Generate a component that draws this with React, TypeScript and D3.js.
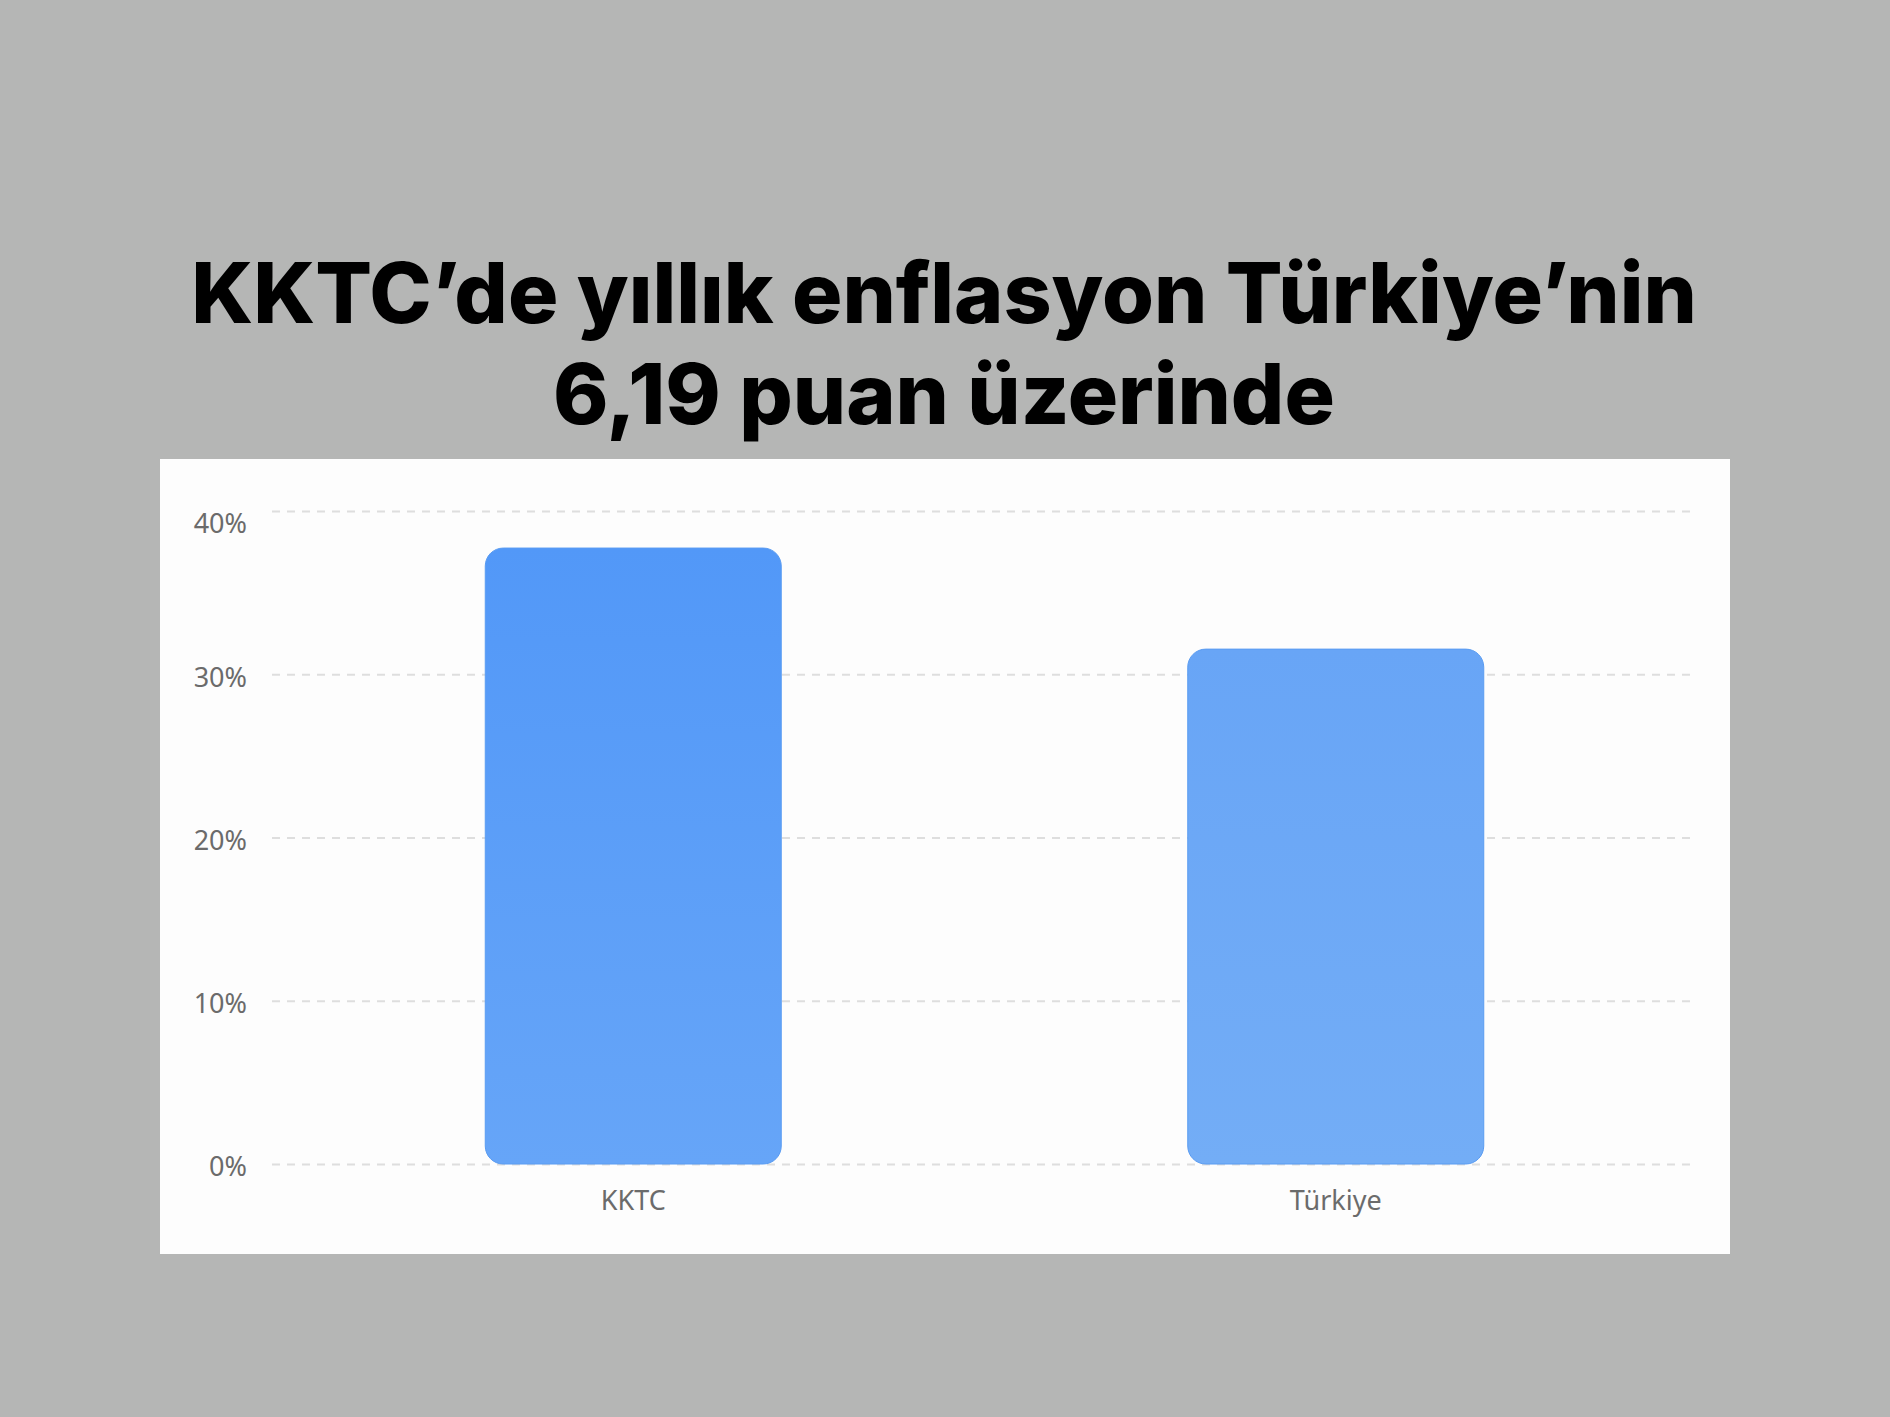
import React, { useRef, useEffect } from 'react';
import * as d3 from 'd3';

const categories = ['KKTC', 'Türkiye'];
const inflation = [37.73, 31.54];
const yTicks = [0, 10, 20, 30, 40];
const titleLines = ['KKTC’de yıllık enflasyon Türkiye’nin', '6,19 puan üzerinde'];

const barColors: Record<string, [string, string]> = {
  KKTC: ['#5298f8', '#66a5f8'],
  Türkiye: ['#68a5f6', '#73adf6'],
};

const WIDTH = 1890;
const HEIGHT = 1417;

const App: React.FC = () => {
  const svgRef = useRef<SVGSVGElement | null>(null);

  useEffect(() => {
    if (!svgRef.current) return;
    const svg = d3.select(svgRef.current);
    svg.selectAll('*').remove();

    svg.append('rect')
      .attr('width', WIDTH)
      .attr('height', HEIGHT)
      .attr('fill', '#b5b6b5');

    // title
    const title = svg.append('text')
      .attr('text-anchor', 'middle')
      .style('font-family', 'Inter, "Noto Sans", sans-serif')
      .style('font-weight', 800)
      .style('font-size', '84px')
      .attr('fill', '#000');
    titleLines.forEach((line, i) => {
      title.append('tspan')
        .attr('x', 944)
        .attr('y', 323 + i * 101)
        .text(line);
    });

    // white panel
    svg.append('rect')
      .attr('x', 160)
      .attr('y', 459)
      .attr('width', 1570)
      .attr('height', 795)
      .attr('fill', '#fdfdfd');

    const xScale = d3.scaleBand()
      .domain(categories)
      .range([282, 1687])
      .padding(0);

    const yScale = d3.scaleLinear()
      .domain([0, 40])
      .range([1164, 511]);

    const defs = svg.append('defs');
    categories.forEach((c, i) => {
      const grad = defs.append('linearGradient')
        .attr('id', `grad-${i}`)
        .attr('x1', 0).attr('y1', 0)
        .attr('x2', 0).attr('y2', 1);
      grad.append('stop').attr('offset', '0%').attr('stop-color', barColors[c][0]);
      grad.append('stop').attr('offset', '100%').attr('stop-color', barColors[c][1]);
    });

    // grid
    const yAxis = d3.axisLeft(yScale)
      .tickValues(yTicks)
      .tickSize(-(1694 - 272))
      .tickPadding(25)
      .tickFormat((d: any) => `${d}%`);

    const yAxisG = svg.append('g')
      .attr('transform', 'translate(272,0)')
      .call(yAxis);
    yAxisG.select('.domain').remove();
    yAxisG.selectAll('line')
      .attr('stroke', '#dedede')
      .attr('stroke-width', 2)
      .attr('stroke-dasharray', '8 7');
    // top label sits below its gridline (kept inside the plot)
    yAxisG.selectAll('text')
      .attr('fill', '#6b6b6b')
      .attr('dy', (d: any) => (d === 40 ? '0.78em' : '0.44em'))
      .style('font-family', '"Noto Sans", "Open Sans", sans-serif')
      .style('font-size', '27px');

    // bars
    const barWidth = 296;
    svg.selectAll('.bar')
      .data(categories)
      .enter()
      .append('rect')
      .attr('class', 'bar')
      .attr('x', (d: string) => (xScale(d) || 0) + xScale.bandwidth() / 2 - barWidth / 2)
      .attr('y', (_d: string, i: number) => yScale(inflation[i]))
      .attr('width', barWidth)
      .attr('height', (_d: string, i: number) => yScale(0) - yScale(inflation[i]))
      .attr('rx', 18)
      .attr('ry', 18)
      .attr('fill', (_d: string, i: number) => `url(#grad-${i})`)
      .attr('stroke', '#5a9cf2')
      .attr('stroke-width', 1);

    // category labels
    svg.selectAll('.cat')
      .data(categories)
      .enter()
      .append('text')
      .attr('class', 'cat')
      .attr('x', (d: string) => (xScale(d) || 0) + xScale.bandwidth() / 2)
      .attr('y', 1210)
      .attr('text-anchor', 'middle')
      .attr('fill', '#6b6b6b')
      .style('font-family', '"Noto Sans", "Open Sans", sans-serif')
      .style('font-size', '27px')
      .text((d: string) => d);
  }, []);

  return (
    <div style={{ position: 'absolute', left: 0, top: 0 }}>
      <svg ref={svgRef} width={WIDTH} height={HEIGHT} style={{ display: 'block' }}></svg>
    </div>
  );
};

export default App;
